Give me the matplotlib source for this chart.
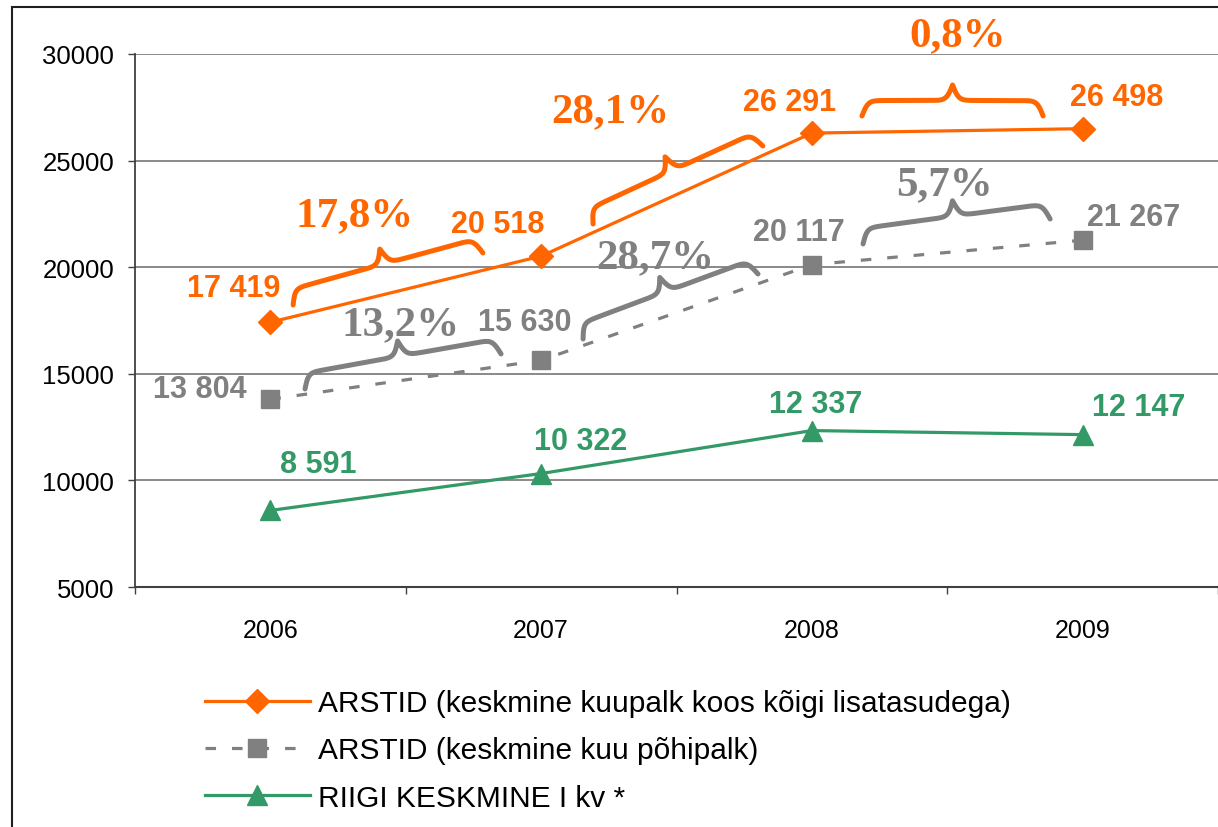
import numpy as np
import matplotlib
matplotlib.use('Agg')
import matplotlib.pyplot as plt
from matplotlib.patches import Rectangle
from matplotlib.transforms import IdentityTransform

years = ['2006', '2007', '2008', '2009']
arstid_kokku = [17419, 20518, 26291, 26498]
arstid_pohi = [13804, 15630, 20117, 21267]
riigi_keskmine = [8591, 10322, 12337, 12147]

labels = ['ARSTID (keskmine kuupalk koos kõigi lisatasudega)',
          'ARSTID (keskmine kuu põhipalk)',
          'RIIGI KESKMINE I kv *']

pct_orange = ['17,8%', '28,1%', '0,8%']
pct_gray = ['13,2%', '28,7%', '5,7%']

ORANGE = '#FF6600'
GRAY = '#808080'
GREEN = '#339966'

# label offsets in pixels from each point
off_orange = [(-37, 34), (-43, 32), (-22, 31), (34, 32)]
off_gray = [(-71, 10), (-16, 38), (-13, 33), (51, 23)]
off_green = [(48, 46), (39, 33), (4, 27), (56, 28)]

# braces: (x0, y0, x1, y1) in data units, and percent label positions
braces_orange = [(0.084, 18228, 0.785, 20667),
                 (1.192, 22027, 1.819, 25685),
                 (2.185, 27092, 2.854, 27092)]
braces_gray = [(0.128, 14289, 0.852, 15930),
               (1.155, 16633, 1.801, 19682),
               (2.189, 21089, 2.880, 22262)]
pos_pct_orange = [(0.3125, 22449), (1.254, 27327), (2.540, 30891)]
pos_pct_gray = [(0.479, 17337), (1.4206, 20479), (2.488, 23903)]


def draw_brace(ax, p0, p1, height, color, lw=3.6, beta=0.33):
    t = ax.transData
    a = np.array(t.transform(p0))
    b = np.array(t.transform(p1))
    d = b - a
    L = np.hypot(*d)
    u = d / L
    n = np.array([-u[1], u[0]])
    half = L / 2
    s = np.linspace(0, half, 200)
    yh = 1 / (1 + np.exp(-beta * (s - s[0]))) + 1 / (1 + np.exp(-beta * (s - s[-1])))
    ss = np.concatenate([s, s + half])
    yy = (np.concatenate([yh, yh[::-1]]) - 0.5) * height
    pts = a + np.outer(ss, u) + np.outer(yy, n)
    ax.plot(pts[:, 0], pts[:, 1], color=color, lw=lw, transform=IdentityTransform(),
            clip_on=False, solid_capstyle='round', solid_joinstyle='round')


fig = plt.figure(figsize=(12.18, 8.28), dpi=100)
ax = fig.add_axes([135 / 1218, 1 - 588 / 828, 1 - 135 / 1218, (588 - 55) / 828])

x = np.arange(len(years))
l1, = ax.plot(x, arstid_kokku, color=ORANGE, lw=2.3, marker='D', ms=12.5, zorder=3)
l2, = ax.plot(x, arstid_pohi, color=GRAY, lw=2.3, marker='s', ms=13,
              dashes=(3.3, 5), zorder=3)
l3, = ax.plot(x, riigi_keskmine, color=GREEN, lw=2.3, marker='^', ms=14, zorder=3)

ax.set_xlim(-0.5, 3.5)
ax.set_ylim(5000, 30000)
ax.set_yticks(range(5000, 30001, 5000))
ax.set_yticklabels([str(v) for v in range(5000, 30001, 5000)],
                   fontsize=18.5, family='Liberation Sans')
ax.set_xticks(x)
ax.set_xticklabels(years, fontsize=18, family='Liberation Sans')
ax.set_xticks(np.arange(-0.5, 3.6, 1), minor=True)
ax.tick_params(axis='x', which='major', length=0, pad=22)
ax.tick_params(axis='x', which='minor', length=5, width=1, color='#404040')
ax.tick_params(axis='y', length=5, width=1, color='#404040', pad=10)
ax.grid(axis='y', color=GRAY, lw=1.3)
ax.set_axisbelow(True)
for sp in ['top', 'right']:
    ax.spines[sp].set_visible(False)
ax.spines['left'].set_color('#404040')
ax.spines['bottom'].set_color('#404040')
ax.spines['left'].set_linewidth(1.3)
ax.spines['bottom'].set_linewidth(1.5)

for vals, offs, col in [(arstid_kokku, off_orange, ORANGE),
                        (arstid_pohi, off_gray, GRAY),
                        (riigi_keskmine, off_green, GREEN)]:
    for i, v in enumerate(vals):
        txt = '{:,}'.format(v).replace(',', ' ')
        ax.annotate(txt, (i, v), xytext=offs[i], textcoords='offset pixels',
                    ha='center', va='center', color=col, fontsize=22,
                    fontweight='bold', family='Liberation Sans', annotation_clip=False)

for br in braces_orange:
    draw_brace(ax, br[:2], br[2:], 31, ORANGE)
for br in braces_gray:
    draw_brace(ax, br[:2], br[2:], 31, GRAY)

for txt, p in zip(pct_orange, pos_pct_orange):
    ax.text(p[0], p[1], txt, ha='center', va='center', color=ORANGE, fontsize=31,
            fontweight='bold', family='Liberation Serif', clip_on=False)
for txt, p in zip(pct_gray, pos_pct_gray):
    ax.text(p[0], p[1], txt, ha='center', va='center', color=GRAY, fontsize=31,
            fontweight='bold', family='Liberation Serif', clip_on=False)

leg = fig.legend([l1, l2, l3], labels, loc='upper left',
                 bbox_to_anchor=(205 / 1218, 1 - 690 / 828), frameon=False,
                 prop={'family': 'Liberation Sans', 'size': 21.5},
                 handlelength=3.5, handletextpad=0.27, labelspacing=0.65,
                 borderpad=0, borderaxespad=0)

# frame around the whole picture
fig.patches.append(Rectangle((12 / 1218, -0.2), 1.5, 1.2 - 8 / 828,
                             transform=fig.transFigure, fill=False,
                             edgecolor='#202020', lw=1.5))

fig.savefig('out.png', dpi=100)
